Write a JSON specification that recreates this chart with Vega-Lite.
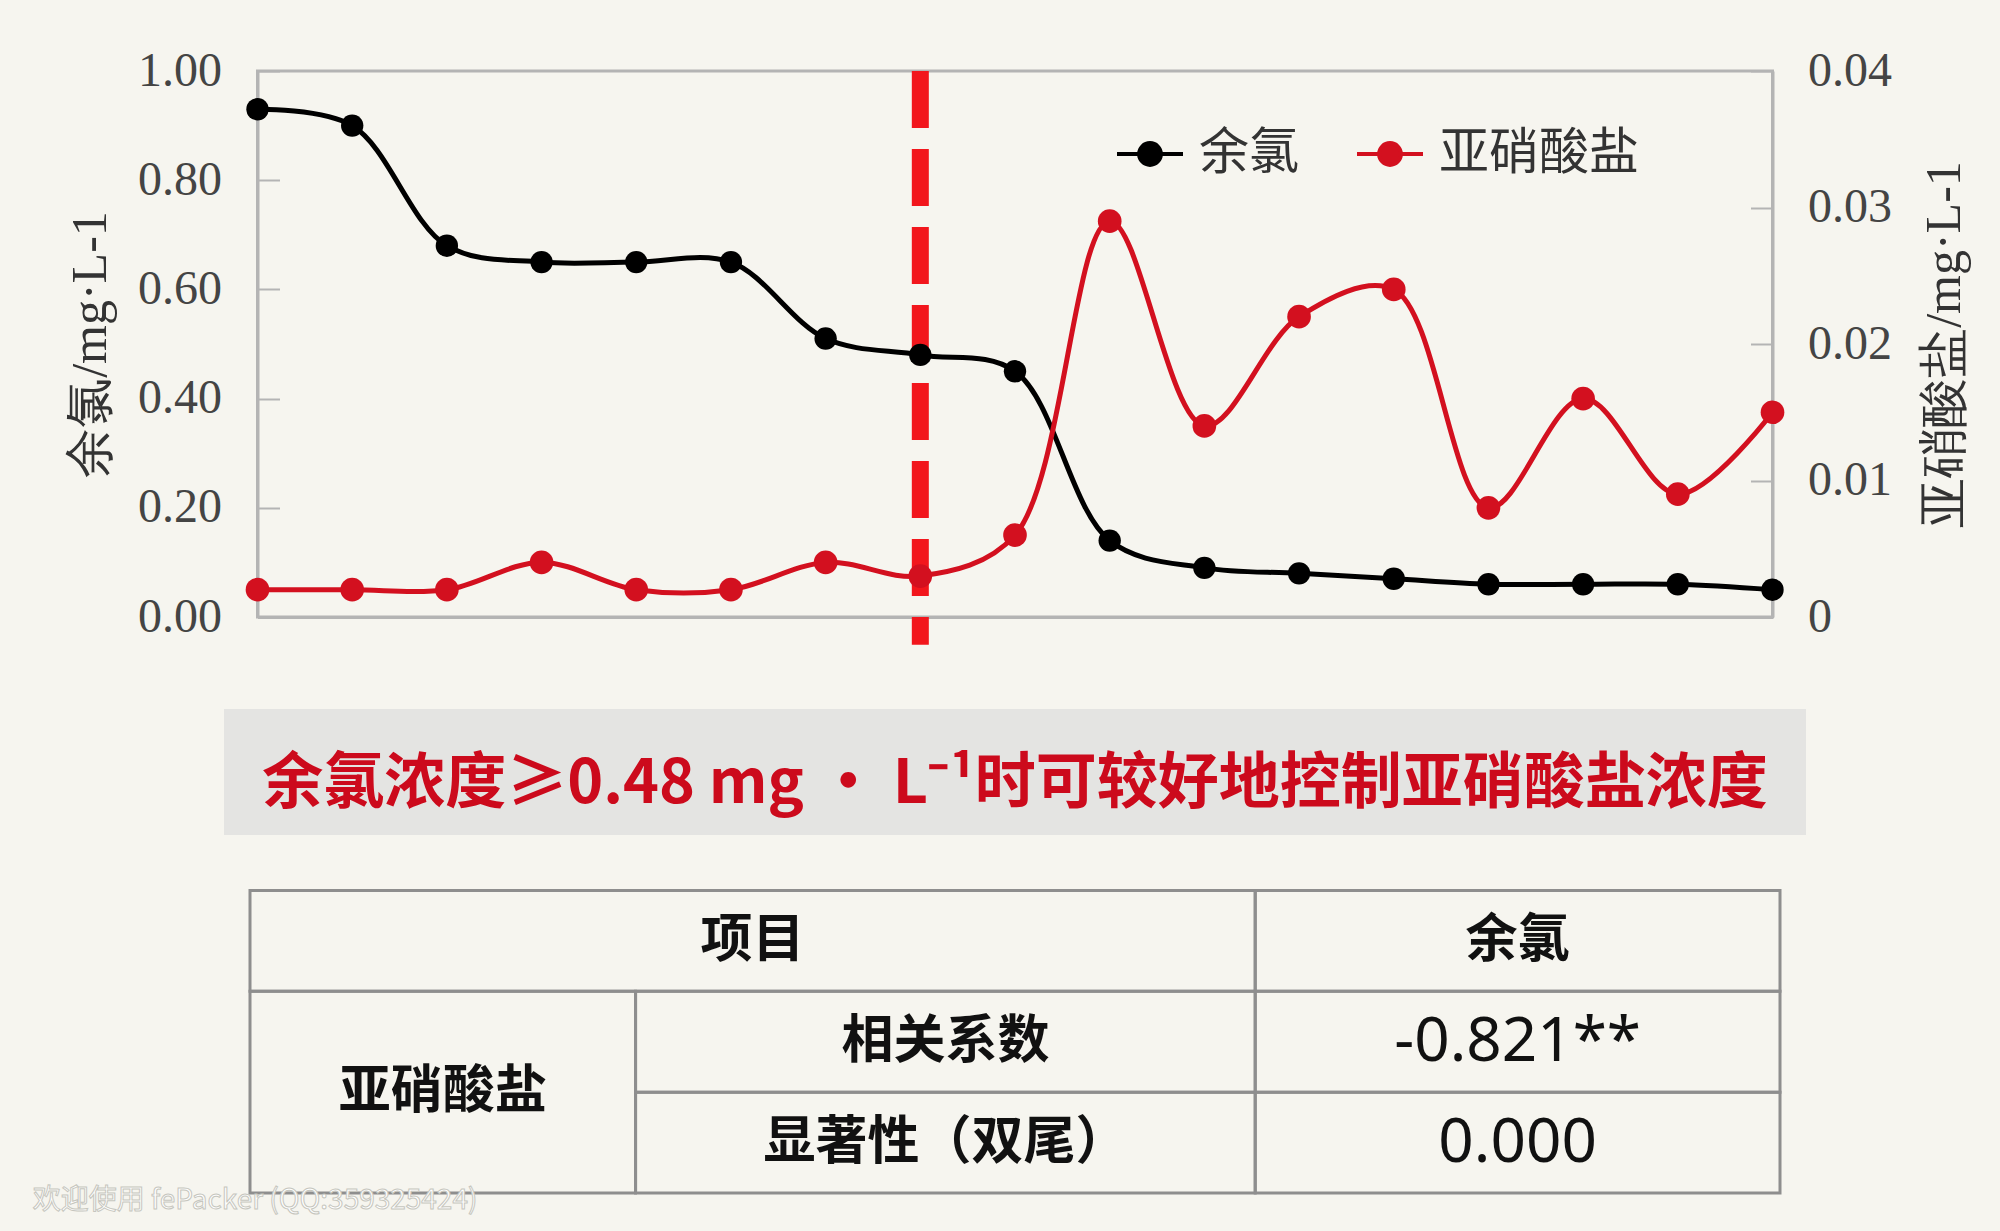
{
  "$schema": "https://vega.github.io/schema/vega-lite/v6.json",
  "background": "#f6f5ef",
  "padding": {"left": 32, "top": 45, "right": 30, "bottom": 38},
  "config": {"view": {"stroke": null}, "font": "Noto Sans CJK SC"},
  "bounds": "flush",
  "center": true,
  "spacing": 92,
  "vconcat": [
    {
      "width": 1515,
      "height": 546,
      "view": {"stroke": "#b4b4b4", "strokeWidth": 3},
      "data": {
        "values": [
          {"采样点": 1, "余氯": 0.93, "亚硝酸盐": 0.002},
          {"采样点": 2, "余氯": 0.90, "亚硝酸盐": 0.002},
          {"采样点": 3, "余氯": 0.68, "亚硝酸盐": 0.002},
          {"采样点": 4, "余氯": 0.65, "亚硝酸盐": 0.004},
          {"采样点": 5, "余氯": 0.65, "亚硝酸盐": 0.002},
          {"采样点": 6, "余氯": 0.65, "亚硝酸盐": 0.002},
          {"采样点": 7, "余氯": 0.51, "亚硝酸盐": 0.004},
          {"采样点": 8, "余氯": 0.48, "亚硝酸盐": 0.003},
          {"采样点": 9, "余氯": 0.45, "亚硝酸盐": 0.006},
          {"采样点": 10, "余氯": 0.14, "亚硝酸盐": 0.029},
          {"采样点": 11, "余氯": 0.09, "亚硝酸盐": 0.014},
          {"采样点": 12, "余氯": 0.08, "亚硝酸盐": 0.022},
          {"采样点": 13, "余氯": 0.07, "亚硝酸盐": 0.024},
          {"采样点": 14, "余氯": 0.06, "亚硝酸盐": 0.008},
          {"采样点": 15, "余氯": 0.06, "亚硝酸盐": 0.016},
          {"采样点": 16, "余氯": 0.06, "亚硝酸盐": 0.009},
          {"采样点": 17, "余氯": 0.05, "亚硝酸盐": 0.015}
        ]
      },
      "layer": [
        {
          "layer": [
            {
              "data": {"values": [{"采样点": 8}]},
              "mark": {"type": "rule", "color": "#f2161c", "strokeWidth": 17, "strokeDash": [57, 21]},
              "encoding": {
                "x": {"field": "采样点", "type": "quantitative"},
                "y": {"datum": 1, "type": "quantitative"},
                "y2": {"datum": -0.051}
              }
            },
            {
              "mark": {
                "type": "line",
                "interpolate": "catmull-rom",
                "strokeWidth": 5,
                "point": {"filled": true, "size": 500, "opacity": 1}
              },
              "encoding": {
                "x": {
                  "field": "采样点",
                  "type": "quantitative",
                  "scale": {"domain": [1, 17], "nice": false, "zero": false},
                  "axis": {
                    "labels": false,
                    "ticks": false,
                    "grid": false,
                    "title": null,
                    "domainColor": "#b4b4b4",
                    "domainWidth": 3
                  }
                },
                "y": {
                  "field": "余氯",
                  "type": "quantitative",
                  "scale": {"domain": [0, 1], "nice": false},
                  "axis": {
                    "title": "余氯/mg·L-1",
                    "values": [0, 0.2, 0.4, 0.6, 0.8, 1],
                    "format": ".2f",
                    "grid": false,
                    "domainColor": "#b4b4b4",
                    "domainWidth": 3,
                    "tickColor": "#b4b4b4",
                    "tickWidth": 2,
                    "tickSize": -22,
                    "labelPadding": 58,
                    "labelFont": "Liberation Serif",
                    "labelFontSize": 48,
                    "labelColor": "#444444",
                    "titleFont": "Liberation Serif",
                    "titleFontSize": 50,
                    "titleFontWeight": "normal",
                    "titleColor": "#333333",
                    "titlePadding": 22
                  }
                },
                "color": {
                  "datum": "余氯",
                  "type": "nominal",
                  "scale": {"domain": ["余氯", "亚硝酸盐"], "range": ["#000000", "#d3101f"]},
                  "legend": {
                    "orient": "none",
                    "legendX": 865,
                    "legendY": 48,
                    "direction": "horizontal",
                    "title": null,
                    "symbolType": "M-1,0H1M-0.33,0a0.33,0.33 0 1,0 0.66,0a0.33,0.33 0 1,0 -0.66,0",
                    "symbolSize": 4356,
                    "symbolStrokeWidth": 4,
                    "labelFont": "Noto Sans CJK SC",
                    "labelFontSize": 50,
                    "labelColor": "#333333",
                    "labelLimit": 400,
                    "labelOffset": 14,
                    "columnPadding": 50,
                    "encode": {
                      "symbols": {
                        "update": {
                          "fill": {"scale": "color", "field": "value"},
                          "stroke": {"scale": "color", "field": "value"}
                        }
                      }
                    }
                  }
                }
              }
            }
          ]
        },
        {
          "mark": {
            "type": "line",
            "interpolate": "catmull-rom",
            "strokeWidth": 5,
            "point": {"filled": true, "size": 560, "opacity": 1}
          },
          "encoding": {
            "x": {"field": "采样点", "type": "quantitative"},
            "y": {
              "field": "亚硝酸盐",
              "type": "quantitative",
              "scale": {"domain": [0, 0.04], "nice": false},
              "axis": {
                "orient": "right",
                "title": "亚硝酸盐/mg·L-1",
                "titleAngle": 270,
                "titleBaseline": "top",
                "values": [0, 0.01, 0.02, 0.03, 0.04],
                "labelExpr": "datum.value == 0 ? '0' : format(datum.value, '.2f')",
                "grid": false,
                "domainColor": "#b4b4b4",
                "domainWidth": 3,
                "tickColor": "#b4b4b4",
                "tickWidth": 2,
                "tickSize": -22,
                "labelPadding": 57,
                "labelFont": "Liberation Serif",
                "labelFontSize": 48,
                "labelColor": "#444444",
                "titleFont": "Liberation Serif",
                "titleFontSize": 50,
                "titleFontWeight": "normal",
                "titleColor": "#333333",
                "titlePadding": 28
              }
            },
            "color": {"datum": "亚硝酸盐", "type": "nominal"}
          }
        }
      ],
      "resolve": {"scale": {"y": "independent"}}
    },
    {
      "width": 1530,
      "height": 484,
      "data": {
        "values": [
          {"内容": "余氯浓度≥0.48 mg · L⁻¹时可较好地控制亚硝酸盐浓度", "类型": "结论", "c0": -1.7, "c1": 101.7, "r0": -1.8, "r1": -0.55, "cx": 50, "cy": -1.05},
          {"内容": "项目", "类型": "表头", "c0": 0, "c1": 65.7, "r0": 0, "r1": 1, "cx": 32.85, "cy": 0.5},
          {"内容": "余氯", "类型": "表头", "c0": 65.7, "c1": 100, "r0": 0, "r1": 1, "cx": 82.85, "cy": 0.5},
          {"内容": "亚硝酸盐", "类型": "表头", "c0": 0, "c1": 25.2, "r0": 1, "r1": 3, "cx": 12.6, "cy": 2},
          {"内容": "相关系数", "类型": "表头", "c0": 25.2, "c1": 65.7, "r0": 1, "r1": 2, "cx": 45.45, "cy": 1.5},
          {"内容": "显著性（双尾）", "类型": "表头", "c0": 25.2, "c1": 65.7, "r0": 2, "r1": 3, "cx": 45.45, "cy": 2.5},
          {"内容": "-0.821**", "类型": "数值", "c0": 65.7, "c1": 100, "r0": 1, "r1": 2, "cx": 82.85, "cy": 1.5},
          {"内容": "0.000", "类型": "数值", "c0": 65.7, "c1": 100, "r0": 2, "r1": 3, "cx": 82.85, "cy": 2.5},
          {"内容": "欢迎使用 fePacker (QQ:359325424)", "类型": "水印", "cx": -14.2, "cy": 3.08}
        ]
      },
      "encoding": {
        "x": {"field": "c0", "type": "quantitative", "scale": {"domain": [0, 100], "nice": false, "zero": false}, "axis": null},
        "y": {"field": "r0", "type": "quantitative", "scale": {"domain": [-1.8, 3], "nice": false, "zero": false, "reverse": true}, "axis": null}
      },
      "layer": [
        {
          "transform": [{"filter": "datum['类型'] == '结论'"}],
          "mark": {"type": "rect", "fill": "#e4e4e2", "stroke": null},
          "encoding": {"x2": {"field": "c1"}, "y2": {"field": "r1"}}
        },
        {
          "transform": [{"filter": "datum['类型'] == '表头' || datum['类型'] == '数值'"}],
          "mark": {"type": "rect", "fill": "transparent", "stroke": "#8e8e8e", "strokeWidth": 3},
          "encoding": {"x2": {"field": "c1"}, "y2": {"field": "r1"}}
        },
        {
          "transform": [{"filter": "datum['类型'] == '结论'"}],
          "mark": {"type": "text", "font": "Noto Sans CJK SC", "fontSize": 61, "fontWeight": "bold", "color": "#cc0a1c", "baseline": "middle"},
          "encoding": {
            "x": {"field": "cx", "type": "quantitative"},
            "y": {"field": "cy", "type": "quantitative"},
            "text": {"field": "内容"}
          }
        },
        {
          "transform": [{"filter": "datum['类型'] == '表头'"}],
          "mark": {"type": "text", "font": "Noto Sans CJK SC", "fontSize": 52, "fontWeight": "bold", "color": "#111111", "baseline": "middle"},
          "encoding": {
            "x": {"field": "cx", "type": "quantitative"},
            "y": {"field": "cy", "type": "quantitative"},
            "text": {"field": "内容"}
          }
        },
        {
          "transform": [{"filter": "datum['类型'] == '数值'"}],
          "mark": {"type": "text", "font": "Noto Sans", "fontSize": 62, "color": "#111111", "baseline": "middle"},
          "encoding": {
            "x": {"field": "cx", "type": "quantitative"},
            "y": {"field": "cy", "type": "quantitative"},
            "text": {"field": "内容"}
          }
        },
        {
          "transform": [{"filter": "datum['类型'] == '水印'"}],
          "mark": {"type": "text", "font": "Noto Sans CJK SC", "fontSize": 28, "color": "#ffffff", "stroke": "#c6c6be", "strokeWidth": 1, "align": "left", "baseline": "middle"},
          "encoding": {
            "x": {"field": "cx", "type": "quantitative"},
            "y": {"field": "cy", "type": "quantitative"},
            "text": {"field": "内容"}
          }
        }
      ]
    }
  ]
}
